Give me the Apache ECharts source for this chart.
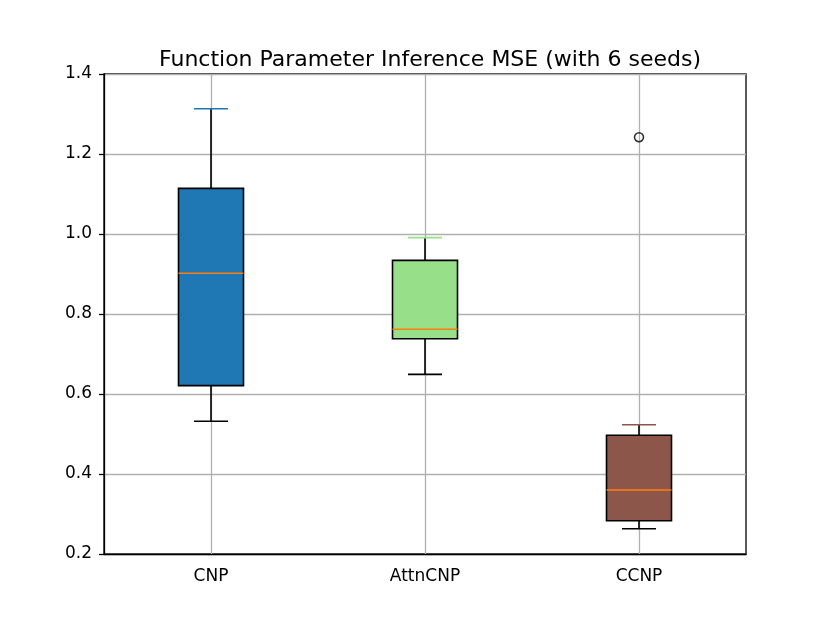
<!DOCTYPE html>
<html>
<head>
<meta charset="utf-8">
<script src="https://cdn.jsdelivr.net/npm/echarts@6/dist/echarts.min.js"></script>
<style>
  html, body { margin: 0; padding: 0; background: #fff; }
  #main { width: 830px; height: 623px; }
</style>
</head>
<body>
<div id="main"></div>
<script>
// data
var categories = ['CNP', 'AttnCNP', 'CCNP'];
var lowWhisker = [0.532, 0.649, 0.263];
var q1 = [0.621, 0.738, 0.283];
var median = [0.902, 0.762, 0.360];
var q3 = [1.114, 0.934, 0.497];
var highWhisker = [1.313, 0.991, 0.523];
var boxColors = ['#1f77b4', '#98df8a', '#8c564b'];
var outliers = [[2, 1.242]];
var yTicks = [0.2, 0.4, 0.6, 0.8, 1.0, 1.2, 1.4];

var boxData = categories.map(function (c, i) {
  return [i, lowWhisker[i], q1[i], median[i], q3[i], highWhisker[i]];
});

var BOX_W = 65, CAP_W = 34;

function renderBox(params, api) {
  var i = api.value(0);
  var x = api.coord([i, 0])[0];
  var yLow = api.coord([i, api.value(1)])[1];
  var yQ1 = api.coord([i, api.value(2)])[1];
  var yMed = api.coord([i, api.value(3)])[1];
  var yQ3 = api.coord([i, api.value(4)])[1];
  var yHigh = api.coord([i, api.value(5)])[1];
  var lw = 1.6;
  var black = { stroke: '#000', lineWidth: lw };
  return {
    type: 'group',
    children: [
      { type: 'line', shape: { x1: x, y1: yQ1, x2: x, y2: yLow }, style: black },
      { type: 'line', shape: { x1: x, y1: yQ3, x2: x, y2: yHigh }, style: black },
      { type: 'line', shape: { x1: x - CAP_W / 2, y1: yLow, x2: x + CAP_W / 2, y2: yLow }, style: black },
      { type: 'line', shape: { x1: x - CAP_W / 2, y1: yHigh, x2: x + CAP_W / 2, y2: yHigh },
        style: { stroke: boxColors[i], lineWidth: lw } },
      { type: 'rect', shape: { x: x - BOX_W / 2, y: yQ3, width: BOX_W, height: yQ1 - yQ3 },
        style: { fill: boxColors[i], stroke: '#000', lineWidth: lw } },
      { type: 'line', shape: { x1: x - BOX_W / 2, y1: yMed, x2: x + BOX_W / 2, y2: yMed },
        style: { stroke: '#ff7f0e', lineWidth: lw } }
    ]
  };
}

var myChart = echarts.init(document.getElementById('main'));
myChart.setOption({
  animation: false,
  textStyle: { fontFamily: 'DejaVu Sans' },
  title: {
    text: 'Function Parameter Inference MSE (with 6 seeds)',
    left: 425,
    top: 44,
    textAlign: 'center',
    textStyle: { fontSize: 22, fontWeight: 'normal', color: '#000', fontFamily: 'DejaVu Sans' }
  },
  grid: {
    left: 104, right: 84, top: 74, bottom: 69,
    show: true, borderColor: '#000', borderWidth: 1.3, backgroundColor: 'transparent'
  },
  xAxis: {
    type: 'category',
    data: categories,
    boundaryGap: true,
    axisLine: { lineStyle: { color: '#000', width: 1.3 } },
    axisTick: { alignWithLabel: true, length: 5, lineStyle: { color: '#000', width: 1.3 } },
    axisLabel: { color: '#000', fontSize: 17, margin: 14 },
    splitLine: { show: false }
  },
  yAxis: {
    type: 'value',
    min: yTicks[0],
    max: yTicks[yTicks.length - 1],
    interval: 0.2,
    axisLine: { show: true, lineStyle: { color: '#000', width: 1.3 } },
    axisTick: { show: true, length: 5, lineStyle: { color: '#000', width: 1.3 } },
    axisLabel: { color: '#000', fontSize: 17, margin: 12, formatter: function (v) { return v.toFixed(1); } },
    splitLine: { show: true, lineStyle: { color: '#b0b0b0', width: 1.3 } }
  },
  series: [
    {
      type: 'custom',
      renderItem: renderBox,
      data: boxData,
      encode: { x: 0, y: [1, 2, 3, 4, 5] },
      z: 3,
      markLine: {
        silent: true,
        symbol: ['none', 'none'],
        label: { show: false },
        lineStyle: { color: '#b0b0b0', width: 1.3, type: 'solid' },
        data: categories.map(function (c) { return { xAxis: c }; }),
        z: 1
      }
    },
    {
      type: 'scatter',
      data: outliers,
      symbol: 'circle',
      symbolSize: 9,
      itemStyle: { color: 'rgba(0,0,0,0)', borderColor: '#000', borderWidth: 1.6 },
      z: 4
    }
  ]
});
</script>
</body>
</html>
